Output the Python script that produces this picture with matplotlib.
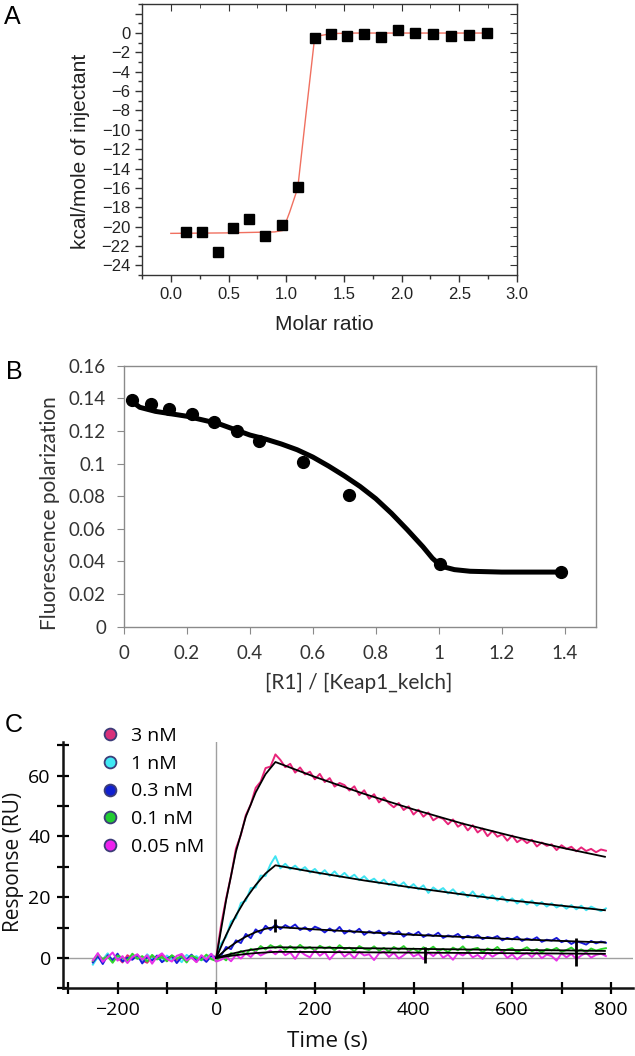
import numpy as np
import matplotlib
matplotlib.use("Agg")
import matplotlib.pyplot as plt
from matplotlib.ticker import FixedLocator, MultipleLocator, FuncFormatter
from matplotlib.lines import Line2D

# ---------------- panel A: ITC ----------------
itc_ratio = [0.135, 0.27, 0.405, 0.54, 0.68, 0.82, 0.96, 1.10, 1.245, 1.385,
             1.53, 1.675, 1.82, 1.97, 2.12, 2.275, 2.43, 2.585, 2.74]
itc_heat = [-20.55, -20.6, -22.6, -20.1, -19.2, -21.0, -19.85, -15.9, -0.55, -0.1,
            -0.3, -0.05, -0.45, 0.3, 0.05, -0.1, -0.3, -0.2, 0.0]
itc_fit_x = [0.0, 0.5, 0.9, 0.97, 1.03, 1.10, 1.17, 1.245, 1.30, 1.40, 1.6, 2.0, 2.74]
itc_fit_y = [-20.7, -20.65, -20.55, -20.4, -18.5, -16.0, -8.5, -0.6, -0.25, -0.05, 0.0, 0.0, 0.0]

# ---------------- panel B: FP ----------------
fp_ratio = [0.026, 0.085, 0.144, 0.215, 0.287, 0.358, 0.428, 0.570, 0.715, 1.005, 1.389]
fp_pol = [0.139, 0.1365, 0.1333, 0.1304, 0.1255, 0.1202, 0.1138, 0.1012, 0.0807, 0.0382, 0.0337]
fp_fit_x = [0.026, 0.05, 0.1, 0.2, 0.3, 0.4, 0.45, 0.5, 0.55, 0.6, 0.65, 0.7, 0.75,
            0.8, 0.85, 0.9, 0.95, 0.98, 1.0, 1.02, 1.05, 1.1, 1.2, 1.3, 1.39]
fp_fit_y = [0.138, 0.1345, 0.132, 0.129, 0.1245, 0.1175, 0.115, 0.112, 0.1085, 0.104,
            0.0985, 0.0925, 0.086, 0.0785, 0.0695, 0.0595, 0.049, 0.042, 0.0385, 0.0365,
            0.035, 0.034, 0.0335, 0.0335, 0.0335]

# ---------------- panel C: SPR ----------------
spr_time = np.arange(-250, 791, 10)
conc_labels = ["3 nM", "1 nM", "0.3 nM", "0.1 nM", "0.05 nM"]
conc_colors = ["#E8247A", "#3FE4F2", "#1A1ADC", "#2ED42E", "#E830E8"]
legend_faces = ["#D8307A", "#40E8F4", "#1020D0", "#22CC33", "#EE22EE"]

resp_3nM = [-1.2, 0.8, -0.5, 1.3, -1.0, 0.2, -1.5, 0.9, -0.3, 1.1, -0.8, -1.6, 0.4,
            -0.2, 1.0, -1.1, 0.6, -0.7, 1.2, -0.4, 0.3, -1.3, 0.7, -0.6, 1.0, 0.2,
            11.0, 19.5, 27.0, 36.0, 40.5, 47.0, 50.5, 56.0, 58.0, 62.5, 63.0, 67.0,
            65.2, 62.8, 63.9, 61.0, 62.7, 60.4, 61.3, 58.8, 60.6, 57.9,
            59.2, 56.4, 57.6, 56.9, 55.1, 56.5, 53.6, 55.2, 52.4, 53.9,
            51.2, 52.8, 50.9, 49.6, 51.0, 48.7, 49.9, 47.2, 48.8, 46.5,
            47.9, 45.3, 46.4, 45.8, 44.0, 45.6, 43.2, 44.3, 42.0, 43.7,
            41.3, 42.6, 40.1, 41.8, 39.9, 40.7, 38.6, 40.3, 38.1, 39.2,
            37.8, 38.9, 36.7, 38.0, 36.9, 37.4, 35.5, 37.1, 35.9, 36.6,
            35.1, 36.4, 35.2, 35.9, 34.8, 35.7, 35.3]
resp_1nM = [-2.2, 0.3, -0.7, 1.5, -1.0, 0.4, -0.2, -1.5, 0.9, 0.1, -0.9, 1.2, -0.4,
            0.5, -1.2, 0.8, -0.6, 0.3, -1.4, 1.0, -0.1, 0.6, -0.8, 0.2, 1.3, -0.3,
            4.8, 6.9, 12.0, 13.2, 18.1, 18.8, 23.0, 23.2, 27.1, 27.0, 30.8, 33.5,
            29.5, 31.0, 29.2, 30.4, 28.8, 29.9, 28.1, 29.3, 27.5, 28.9,
            27.0, 28.5, 26.6, 28.0, 26.3, 27.4, 25.6, 26.9, 25.2, 26.1,
            24.5, 25.8, 24.0, 25.2, 23.6, 24.9, 23.0, 24.3, 22.6, 23.9,
            21.4, 23.2, 22.0, 23.0, 21.2, 22.6, 20.8, 21.7, 20.1, 21.9,
            19.8, 21.0, 19.4, 20.6, 18.9, 20.2, 18.5, 19.6, 17.9, 19.3,
            17.6, 18.9, 17.2, 18.4, 16.9, 18.0, 16.6, 17.5, 16.2, 17.4,
            16.0, 17.2, 15.7, 16.9, 16.1, 15.4, 16.3]
resp_03nM = [-1.5, 0.6, -2.0, 0.9, -0.8, 1.4, -1.2, 0.1, -0.6, 1.0, -1.8, 0.3, -0.9,
             0.8, -1.4, -0.2, 0.7, -1.7, 0.4, -0.5, 1.1, -1.0, 0.2, -1.3, 0.6, 0.1,
             0.8, 3.6, 2.9, 5.8, 4.9, 7.9, 6.5, 9.4, 8.1, 10.6, 9.2, 11.0,
             9.5, 10.8, 9.9, 11.0, 9.2, 10.1, 8.9, 10.3, 9.6, 8.4,
             9.7, 8.6, 10.2, 8.0, 9.1, 8.3, 9.6, 7.6, 8.8, 8.1,
             9.0, 7.4, 8.5, 7.9, 8.8, 7.0, 8.2, 7.5, 8.6, 6.9,
             7.8, 7.2, 8.3, 6.6, 7.4, 7.0, 7.9, 6.4, 7.3, 6.7,
             7.5, 6.2, 6.9, 6.5, 7.2, 5.8, 6.6, 6.1, 7.0, 5.6,
             6.4, 5.9, 6.8, 5.3, 6.0, 5.7, 6.6, 5.2, 5.8, 4.6,
             5.5, 5.0, 4.4, 5.6, 4.8, 5.4, 5.0]
resp_01nM = [-1.0, 1.2, -0.4, 0.5, -1.6, 0.8, 0.1, -0.9, 1.4, -0.3, 0.6, -1.2, 1.0,
             -0.5, 0.3, -1.1, 0.9, -0.2, 0.5, -1.5, 0.8, 0.0, -0.7, 1.1, -0.4, -1.0,
             0.5, -0.8, 1.6, 0.9, 2.3, 1.2, 3.0, 2.1, 3.9, 2.8, 4.2, 3.3,
             4.1, 2.6, 3.9, 2.8, 4.3, 3.0, 3.6, 2.4, 4.0, 3.1,
             3.7, 2.5, 4.2, 2.9, 3.4, 2.2, 3.9, 3.0, 2.6, 3.8,
             2.4, 3.3, 2.1, 3.6, 2.7, 3.9, 2.3, 3.1, 2.0, 3.5,
             2.6, 3.7, 2.2, 3.0, 1.9, 3.4, 2.5, 3.8, 2.1, 2.9,
             3.3, 1.8, 3.1, 2.4, 3.6, 2.0, 2.8, 3.2, 1.9, 2.7,
             3.5, 2.2, 2.9, 1.8, 3.0, 2.5, 3.3, 2.0, 2.6, 3.4,
             2.1, 2.8, 1.9, 3.1, 2.4, 2.9, 3.2]
resp_005nM = [-0.8, 1.6, -1.3, 0.2, 1.8, -0.9, 0.6, -1.7, 0.3, 1.2, -0.6, 0.9, -1.9,
              0.4, 1.5, -0.3, -1.2, 0.7, 1.3, -0.8, 0.1, -1.4, 0.9, -0.5, 1.4, -1.2,
              -0.6, 0.4, -1.1, 1.0, -0.2, 1.5, 0.3, 2.0, 0.8, 1.6, 2.4, 1.2,
              2.6, 0.9, 1.8, -0.3, 2.2, 1.0, 0.2, 2.5, 0.7, 1.9,
              -0.5, 1.4, 2.3, 0.4, 1.6, -0.1, 2.0, 0.8, 1.2, -0.7,
              1.5, 2.1, 0.3, 1.7, -0.2, 0.9, 2.2, 0.5, 1.3, -0.4,
              1.8, 0.6, 2.0, 0.1, 1.1, -0.6, 1.6, 0.8, 1.9, 0.2,
              1.0, -0.3, 1.7, 0.4, 1.4, 2.0, 0.0, 1.2, -0.5, 0.9,
              1.6, 0.3, 1.8, -0.1, 1.1, 0.6, -0.9, 1.5, 0.2, 1.3,
              -0.4, 0.8, 1.7, 0.1, 1.0, 1.4, 0.6]
spr_traces = [resp_3nM, resp_1nM, resp_03nM, resp_01nM, resp_005nM]

fit_time = [0, 20, 40, 60, 80, 100, 120, 200, 300, 400, 500, 600, 700, 788]
fit_3nM = [0, 19.0, 35.0, 46.5, 54.5, 60.5, 64.5, 59.6, 54.0, 48.9, 44.2, 40.1, 36.3, 33.3]
fit_1nM = [0, 7.5, 14.0, 19.5, 24.0, 27.8, 30.5, 28.2, 25.5, 23.1, 20.9, 18.9, 17.2, 15.7]
fit_03nM = [0, 2.8, 5.1, 7.0, 8.5, 9.6, 10.2, 9.4, 8.5, 7.6, 6.9, 6.2, 5.6, 5.1]
fit_01nM = [0, 0.9, 1.7, 2.4, 2.9, 3.3, 3.5, 3.4, 3.2, 3.0, 2.8, 2.6, 2.5, 2.3]
fit_005nM = [0, 0.5, 0.9, 1.3, 1.6, 1.8, 2.0, 1.95, 1.85, 1.75, 1.65, 1.55, 1.45, 1.35]
spr_fits = [fit_3nM, fit_1nM, fit_03nM, fit_01nM, fit_005nM]

# little spikes on the fitted curves
spike_t = [120, 423, 730]
spike_lo = [8.5, -1.8, -2.5]
spike_hi = [12.8, 3.6, 6.4]

W, H = 635, 1056
fig = plt.figure(figsize=(W / 100, H / 100), dpi=100)


def px(x, y):
    return x / W, 1 - y / H


# ================= A =================
axA = fig.add_axes([0.2236, 0.7396, 0.5906, 0.2566])
axA.plot(itc_fit_x, itc_fit_y, color="#F07060", lw=1.0, zorder=2)
axA.plot(itc_ratio, itc_heat, "s", color="black", ms=7.5, zorder=3)
axA.set_xlim(-0.25, 3.0)
axA.set_ylim(-25, 3)
axA.xaxis.set_major_locator(MultipleLocator(0.5))
axA.xaxis.set_minor_locator(MultipleLocator(0.25))
axA.yaxis.set_major_locator(FixedLocator(list(range(-24, 3, 2))))
axA.yaxis.set_minor_locator(MultipleLocator(1))
axA.yaxis.set_major_formatter(FuncFormatter(lambda v, p: "" if v > 0 else f"{int(v)}".replace("-", "\u2212")))
axA.xaxis.set_major_formatter(FuncFormatter(lambda v, p: f"{v:.1f}"))
for sp in axA.spines.values():
    sp.set_color("#333333")
    sp.set_linewidth(1.0)
axA.tick_params(which="both", direction="out", color="#333333", labelsize=12,
                labelcolor="#222222", width=1.0)
axA.tick_params(which="major", length=5)
axA.tick_params(which="minor", length=3)
for lab in axA.get_xticklabels() + axA.get_yticklabels():
    lab.set_family("Liberation Sans")
# inward ticks on top/right
topA = axA.secondary_xaxis("top")
topA.xaxis.set_major_locator(MultipleLocator(0.5))
topA.xaxis.set_minor_locator(MultipleLocator(0.25))
topA.tick_params(which="both", direction="in", labeltop=False, color="#333333")
topA.tick_params(which="major", length=5)
topA.tick_params(which="minor", length=3)
topA.spines["top"].set_visible(False)
rightA = axA.secondary_yaxis("right")
rightA.yaxis.set_major_locator(FixedLocator(list(range(-24, 3, 2))))
rightA.yaxis.set_minor_locator(MultipleLocator(1))
rightA.tick_params(which="both", direction="in", labelright=False, color="#333333")
rightA.tick_params(which="major", length=5)
rightA.tick_params(which="minor", length=3)
rightA.spines["right"].set_visible(False)

fig.text(*px(324, 324), "Molar ratio", ha="center", va="center", fontsize=15,
         family="Liberation Sans", color="#222222")
fig.text(*px(80, 151), "kcal/mole of injectant", ha="center", va="center", fontsize=15,
         rotation=90, family="Liberation Sans", color="#222222")
fig.text(*px(12, 17), "A", ha="center", va="center", fontsize=18, family="Liberation Sans")

# ================= B =================
axB = fig.add_axes([0.1953, 0.4065, 0.7433, 0.2472])
axB.plot(fp_fit_x, fp_fit_y, color="black", lw=3.6, solid_capstyle="round",
         solid_joinstyle="round", zorder=2)
axB.plot(fp_ratio, fp_pol, "o", color="black", ms=8.5, zorder=3)
axB.set_xlim(0, 1.5)
axB.set_ylim(0, 0.16)
axB.xaxis.set_major_locator(FixedLocator([0, 0.2, 0.4, 0.6, 0.8, 1.0, 1.2, 1.4]))
axB.yaxis.set_major_locator(MultipleLocator(0.02))
gfmt = FuncFormatter(lambda v, p: f"{round(v, 3):g}")
axB.xaxis.set_major_formatter(gfmt)
axB.yaxis.set_major_formatter(gfmt)
for sp in axB.spines.values():
    sp.set_color("#8a8a8a")
    sp.set_linewidth(1.0)
axB.tick_params(direction="out", length=5, color="#8a8a8a", labelsize=13.5,
                labelcolor="#333333", pad=8)
for lab in axB.get_xticklabels() + axB.get_yticklabels():
    lab.set_family("Lato")
fig.text(*px(359, 683), "[R1] / [Keap1_kelch]", ha="center", va="center", fontsize=15,
         family="Lato", color="#333333")
fig.text(*px(50, 513), "Fluorescence polarization", ha="center", va="center", fontsize=15,
         rotation=90, family="Lato", color="#333333")
fig.text(*px(14, 372), "B", ha="center", va="center", fontsize=18, family="Liberation Sans")

# ================= C =================
axC = fig.add_axes([0.0997, 0.0641, 0.8972, 0.2330])
axC.axhline(0, color="#a0a0a0", lw=1.0, zorder=1)
axC.axvline(0, color="#a0a0a0", lw=1.0, zorder=1)
for resp, col in zip(spr_traces, conc_colors):
    axC.plot(spr_time, resp, color=col, lw=1.4, zorder=2)
for fit in spr_fits:
    axC.plot(fit_time, fit, color="black", lw=1.3, zorder=3)
axC.vlines(spike_t, spike_lo, spike_hi, color="black", lw=2.0, zorder=4)
axC.set_xlim(-310, 845)
axC.set_ylim(-10, 71)
axC.xaxis.set_major_locator(MultipleLocator(100))
axC.yaxis.set_major_locator(MultipleLocator(10))
axC.xaxis.set_major_formatter(FuncFormatter(
    lambda v, p: (f"{int(v)}".replace("-", "\u2212") if int(round(v)) % 200 == 0 else "")))
axC.yaxis.set_major_formatter(FuncFormatter(
    lambda v, p: (f"{int(v)}" if int(round(v)) % 20 == 0 and v >= 0 else "")))
axC.spines["top"].set_visible(False)
axC.spines["right"].set_visible(False)
for s in ("left", "bottom"):
    axC.spines[s].set_linewidth(1.8)
    axC.spines[s].set_color("#111111")
axC.tick_params(direction="inout", length=8, width=1.6, labelsize=14, pad=5)
for lab in axC.get_xticklabels() + axC.get_yticklabels():
    lab.set_family("Open Sans")

handles = [Line2D([], [], ls="none", marker="o", ms=8.5, mfc=fc, mec="#3c3c78", mew=1.3)
           for fc in legend_faces]
leg = axC.legend(handles, conc_labels, loc="upper left",
                 bbox_to_anchor=px(102, 727), bbox_transform=fig.transFigure,
                 frameon=False, prop={"family": "Open Sans", "size": 14},
                 handlelength=0.8, handletextpad=0.7, labelspacing=0.5,
                 borderpad=0, borderaxespad=0)

fig.text(*px(327, 1042), "Time (s)", ha="center", va="center", fontsize=16,
         family="Open Sans", color="#111111")
fig.text(*px(14, 862), "Response (RU)", ha="center", va="center", fontsize=15,
         rotation=90, family="Open Sans", color="#111111")
fig.text(*px(14, 725), "C", ha="center", va="center", fontsize=18, family="Liberation Sans")

fig.savefig("out.png", dpi=100)
